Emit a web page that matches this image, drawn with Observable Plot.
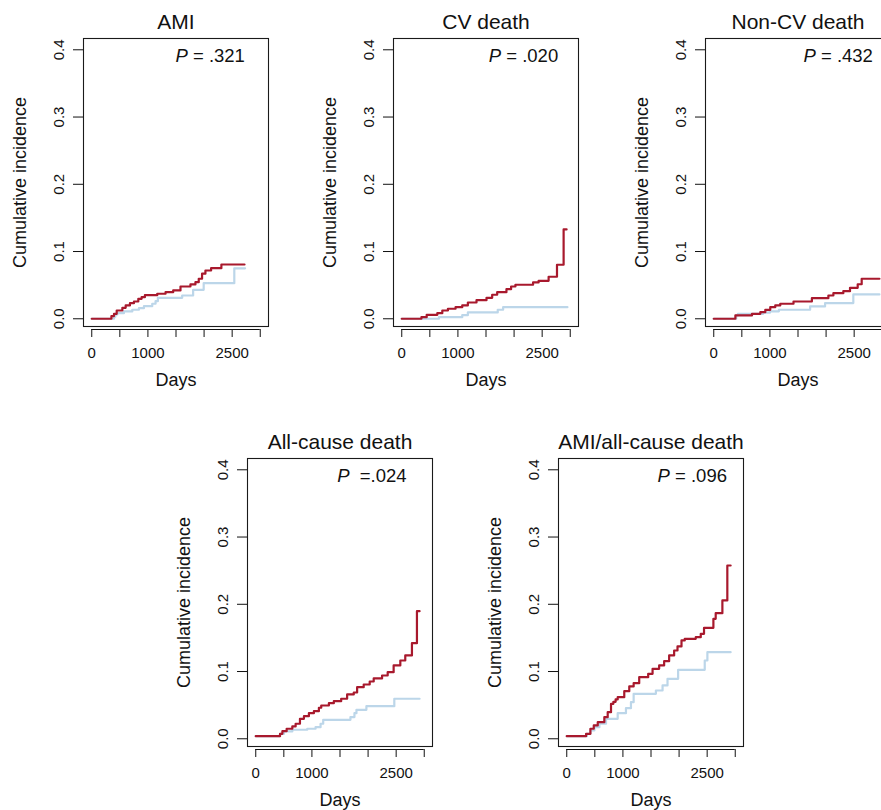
<!DOCTYPE html>
<html><head><meta charset="utf-8">
<script src="https://cdn.jsdelivr.net/npm/d3@7"></script>
<script src="https://cdn.jsdelivr.net/npm/@observablehq/plot@0.6"></script>
<style>
html,body{margin:0;padding:0;background:#fff;overflow:hidden;width:881px;height:810px}
#chart{position:relative;width:940px;height:810px}
#chart svg{position:absolute}
svg text{white-space:pre}
</style></head><body><div id="chart"></div>
<script>
// ---------- data ----------
const titles = ["AMI", "CV death", "Non-CV death", "All-cause death", "AMI/all-cause death"];
const pTexts = ["P = .321", "P = .020", "P = .432", "P  =.024", "P = .096"];
const pLabelDays = [1491, 1550, 1598, 1450, 1617];
const pLabelInc = 0.391;
const yTicks = [0, 0.1, 0.2, 0.3, 0.4];
const xTicks = [0, 500, 1000, 1500, 2000, 2500, 3000];
const xLabels = [0, 1000, 2500];
const xDomain = [-147, 3147];
const yDomain = [-0.0115, 0.4168];

// AMI
const amiRedDays = [0, 350, 396, 444, 545, 604, 680, 751, 829, 888, 946, 1166, 1314, 1450, 1580, 1757, 1846, 1905, 1964, 2024, 2125, 2308, 2720];
const amiRedInc  = [0, 0.004, 0.0074, 0.0123, 0.0163, 0.0198, 0.0232, 0.0257, 0.0297, 0.0321, 0.0351, 0.0372, 0.0396, 0.0421, 0.048, 0.051, 0.0544, 0.0595, 0.067, 0.0718, 0.0752, 0.0807, 0.0807];
const amiBlueDays = [0, 396, 420, 456, 573, 722, 840, 929, 1077, 1136, 1177, 1610, 1805, 1993, 2538, 2730];
const amiBlueInc  = [0, 0.003, 0.0064, 0.0083, 0.0109, 0.0134, 0.0158, 0.0187, 0.0223, 0.0262, 0.0312, 0.0346, 0.0431, 0.053, 0.075, 0.075];
// CV death
const cvRedDays = [0, 350, 444, 633, 722, 822, 958, 1077, 1177, 1331, 1509, 1610, 1699, 1864, 1947, 2024, 2338, 2437, 2615, 2764, 2882, 2935];
const cvRedInc  = [0, 0.0024, 0.0059, 0.0083, 0.0123, 0.0149, 0.0172, 0.0198, 0.0242, 0.0277, 0.0312, 0.0357, 0.0396, 0.044, 0.048, 0.0506, 0.054, 0.0565, 0.0625, 0.0803, 0.1328, 0.1328];
const cvBlueDays = [0, 662, 1077, 1177, 1709, 1805, 2950];
const cvBlueInc  = [0, 0.0024, 0.0054, 0.0094, 0.0134, 0.0172, 0.0172];
// Non-CV death
const ncvRedDays = [0, 385, 681, 829, 918, 1006, 1095, 1184, 1420, 1747, 2041, 2130, 2307, 2426, 2563, 2634, 2950];
const ncvRedInc  = [0, 0.005, 0.0074, 0.0098, 0.0133, 0.0173, 0.0198, 0.0223, 0.0257, 0.0306, 0.0346, 0.038, 0.041, 0.046, 0.0513, 0.0595, 0.0595];
const ncvBlueDays = [0, 400, 430, 880, 1000, 1160, 1716, 1982, 2485, 2950];
const ncvBlueInc  = [0, 0.005, 0.0074, 0.009, 0.011, 0.0134, 0.0183, 0.0233, 0.0362, 0.0362];
// All-cause death
const acRedDays = [0, 432, 474, 550, 651, 710, 787, 858, 946, 1035, 1124, 1166, 1302, 1390, 1521, 1627, 1745, 1805, 1922, 2029, 2100, 2249, 2349, 2455, 2574, 2662, 2781, 2870, 2917];
const acRedInc  = [0.0039, 0.0074, 0.0113, 0.0149, 0.0183, 0.0223, 0.0297, 0.0336, 0.0381, 0.041, 0.0461, 0.0495, 0.0529, 0.0559, 0.0595, 0.0659, 0.0688, 0.0767, 0.0807, 0.0852, 0.0897, 0.0941, 0.099, 0.109, 0.1164, 0.1239, 0.1422, 0.1897, 0.1897];
const acBlueDays = [0, 432, 503, 651, 917, 1065, 1154, 1201, 1686, 1757, 1793, 1970, 2467, 2917];
const acBlueInc  = [0.0039, 0.0074, 0.0109, 0.0134, 0.0149, 0.0173, 0.0223, 0.0282, 0.0322, 0.0381, 0.0431, 0.0485, 0.0595, 0.0595];
// AMI / all-cause death
const compRedDays = [0, 344, 421, 481, 552, 669, 729, 788, 830, 870, 907, 1024, 1113, 1191, 1290, 1450, 1528, 1645, 1734, 1823, 1912, 1972, 2043, 2101, 2297, 2386, 2444, 2611, 2652, 2771, 2859, 2918];
const compRedInc  = [0.0039, 0.0074, 0.0149, 0.0198, 0.0247, 0.0321, 0.0396, 0.052, 0.055, 0.0585, 0.0619, 0.0708, 0.0778, 0.0827, 0.0916, 0.0966, 0.104, 0.109, 0.1154, 0.1239, 0.1313, 0.1373, 0.1462, 0.1487, 0.1511, 0.1561, 0.165, 0.1784, 0.1868, 0.2057, 0.2577, 0.2577];
const compBlueDays = [0, 360, 421, 492, 581, 699, 907, 1054, 1143, 1191, 1587, 1706, 1794, 1983, 2457, 2504, 2918];
const compBlueInc  = [0.0039, 0.0074, 0.0123, 0.0173, 0.0223, 0.0297, 0.0381, 0.0455, 0.0544, 0.0669, 0.0718, 0.0793, 0.0892, 0.1026, 0.1164, 0.1288, 0.1288];

// ---------- layout / style ----------
const RED = "#a8192d";
const BLUE = "#bcd6e9";
const FONT = "'Liberation Sans', Arial, Helvetica, sans-serif";
const series = [
  [amiRedDays, amiRedInc, amiBlueDays, amiBlueInc],
  [cvRedDays, cvRedInc, cvBlueDays, cvBlueInc],
  [ncvRedDays, ncvRedInc, ncvBlueDays, ncvBlueInc],
  [acRedDays, acRedInc, acBlueDays, acBlueInc],
  [compRedDays, compRedInc, compBlueDays, compBlueInc]
];
const placement = [[0, 0], [310, 0], [622, 0], [164, 420], [474.6, 420]];

const zip = (xs, ys) => xs.map((d, i) => ({day: d, inc: ys[i]}));
const chart = document.getElementById("chart");

titles.forEach((title, k) => {
  const [rd, ri, bd, bi] = series[k];
  const pText = pTexts[k];
  const svg = Plot.plot({
    width: 310, height: 400,
    marginLeft: 83, marginRight: 42, marginTop: 38, marginBottom: 71,
    style: {fontFamily: FONT, background: "transparent", overflow: "visible", color: "#111"},
    x: {domain: xDomain},
    y: {domain: yDomain, insetBottom: 3},
    marks: [
      Plot.frame({insetBottom: 3, stroke: "#1a1a1a", strokeWidth: 1.1}),
      Plot.axisY({ticks: yTicks, tickSize: 10, tickPadding: 10, tickRotate: -90, fontSize: 15,
                  tickFormat: d => d.toFixed(1), label: null}),
      Plot.axisX({ticks: xTicks, tickSize: 8, tickPadding: 10, fontSize: 15,
                  tickFormat: d => xLabels.includes(d) ? String(d) : "", label: null}),
      Plot.ruleY([yDomain[0]], {x1: xTicks[0], x2: xTicks[xTicks.length - 1], dy: 3, stroke: "#111", strokeWidth: 1}),
      Plot.line(zip(bd, bi), {x: "day", y: "inc", curve: "step-after", stroke: BLUE, strokeWidth: 2.2}),
      Plot.line(zip(rd, ri), {x: "day", y: "inc", curve: "step-after", stroke: RED, strokeWidth: 2.2}),
      Plot.text([title], {frameAnchor: "top", dy: -10, lineAnchor: "bottom", fontSize: 21, fill: "#111"}),
      Plot.text(["Days"], {frameAnchor: "bottom", dy: 56, lineAnchor: "bottom", fontSize: 18, fill: "#111"}),
      Plot.text(["Cumulative incidence"], {frameAnchor: "left", rotate: -90, dx: -58, dy: -1.5, textAnchor: "middle", lineAnchor: "bottom", fontSize: 18, fill: "#111"}),
      Plot.text([pText.slice(0, 1)], {x: pLabelDays[k], y: pLabelInc, textAnchor: "start", fontStyle: "italic", fontSize: 18.5, fill: "#111"}),
      Plot.text([pText.slice(1)], {x: pLabelDays[k], y: pLabelInc, dx: 12.3, textAnchor: "start", fontSize: 18.5, fill: "#111"})
    ]
  });
  svg.style.left = placement[k][0] + "px";
  svg.style.top = placement[k][1] + "px";
  chart.appendChild(svg);
});
</script>
</body></html>
